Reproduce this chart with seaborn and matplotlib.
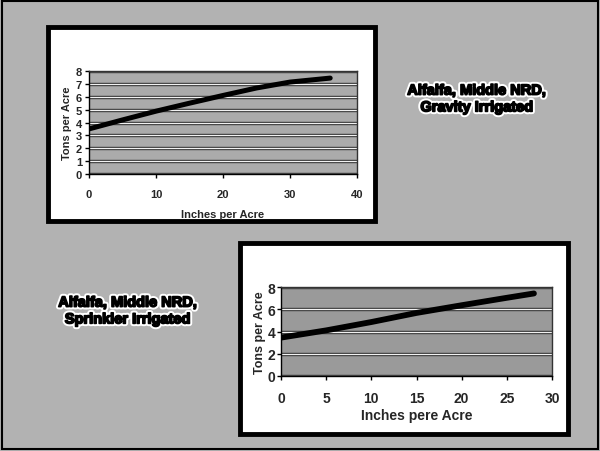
import matplotlib
matplotlib.use("Agg")
import matplotlib.pyplot as plt
import matplotlib.patheffects as pe
from matplotlib.patches import Rectangle
import seaborn as sns
import pandas as pd

sns.set_theme(style="white")
plt.rcParams['font.family'] = ['Liberation Sans', 'DejaVu Sans']

# Top chart: gravity irrigated
gravity_inches = [0, 5, 10, 15, 20, 25, 30, 36]
gravity_tons = [3.5, 4.2, 4.88, 5.5, 6.1, 6.68, 7.14, 7.45]
# Bottom chart: sprinkler irrigated
sprinkler_inches = [0, 5, 10, 15, 20, 25, 28]
sprinkler_tons = [3.45, 4.1, 4.85, 5.67, 6.36, 7.03, 7.42]

top_title = "Alfalfa, Middle NRD,\nGravity Irrigated"
bottom_title = "Alfalfa, Middle NRD,\nSprinkler Irrigated"

W, H = 600, 452
fig = plt.figure(figsize=(W / 100, H / 100), dpi=100)
fig.patch.set_facecolor('#b2b2b2')

def px_rect(x0, y0, x1, y1):
    return [x0 / W, 1 - y1 / H, (x1 - x0) / W, (y1 - y0) / H]

# outer frame
fig.patches.append(Rectangle((2 / W, 2 / H), 1 - 4 / W, 1 - 4 / H, transform=fig.transFigure,
                             fill=False, edgecolor='black', linewidth=1.5, zorder=-2))
# white panels
for (x0, y0, x1, y1) in [(48, 28, 375, 222), (240, 244, 568, 435)]:
    r = px_rect(x0, y0, x1, y1)
    fig.patches.append(Rectangle((r[0], r[1]), r[2], r[3], transform=fig.transFigure,
                                 facecolor='white', edgecolor='black', linewidth=3.5, zorder=-1))

grid_fx = [pe.Stroke(linewidth=2.4, foreground='#222222'), pe.Normal()]

def style(ax, fs, bg):
    ax.set_zorder(3)
    ax.set_facecolor(bg)
    ax.set_axisbelow(True)
    ax.grid(axis='y', color='#f2f2f2', linewidth=1.0, path_effects=grid_fx)
    ax.grid(axis='x', visible=False)
    for s in ['left', 'bottom']:
        ax.spines[s].set_color('black')
        ax.spines[s].set_linewidth(1.0)
    for s in ['top', 'right']:
        ax.spines[s].set_color('#333333')
        ax.spines[s].set_linewidth(1.0)
    ax.tick_params(axis='both', which='major', length=3, width=1, color='black',
                   direction='out', labelsize=fs, bottom=True, left=True)
    for lab in ax.get_xticklabels() + ax.get_yticklabels():
        lab.set_fontweight('bold')

# top axes
ax1 = fig.add_axes(px_rect(89, 72, 357, 175))
df1 = pd.DataFrame({'Inches per Acre': gravity_inches, 'Tons per Acre': gravity_tons})
sns.lineplot(data=df1, x='Inches per Acre', y='Tons per Acre', ax=ax1, color='black', linewidth=3.6)
ax1.set_xlim(0, 40)
ax1.set_ylim(0, 8)
ax1.set_xticks([0, 10, 20, 30, 40])
ax1.set_yticks(range(0, 9))
style(ax1, 8, '#ababab')
ax1.tick_params(axis='x', pad=8)
ax1.tick_params(axis='y', pad=2)
ax1.set_xlabel('Inches per Acre', fontsize=8, fontweight='bold', labelpad=7)
ax1.set_ylabel('Tons per Acre', fontsize=8, fontweight='bold', labelpad=3)

# bottom axes
ax2 = fig.add_axes(px_rect(281, 288, 552, 377))
df2 = pd.DataFrame({'Inches pere Acre': sprinkler_inches, 'Tons per Acre': sprinkler_tons})
sns.lineplot(data=df2, x='Inches pere Acre', y='Tons per Acre', ax=ax2, color='black', linewidth=4.2)
ax2.set_xlim(0, 30)
ax2.set_ylim(0, 8)
ax2.set_xticks([0, 5, 10, 15, 20, 25, 30])
ax2.set_yticks([0, 2, 4, 6, 8])
style(ax2, 10, '#9a9a9a')
ax2.tick_params(axis='x', pad=8)
ax2.tick_params(axis='y', pad=1)
ax2.set_xlabel('Inches pere Acre', fontsize=10, fontweight='bold', labelpad=2)
ax2.set_ylabel('Tons per Acre', fontsize=9, fontweight='bold', labelpad=1)

halo = [pe.withStroke(linewidth=4, foreground='white'),
        pe.withStroke(linewidth=1.2, foreground='black')]
fig.text(477 / W, 1 - 100 / H, top_title, ha='center', va='center', fontsize=10.5,
         fontweight='heavy', color='black', linespacing=1.25, path_effects=halo)
fig.text(128 / W, 1 - 312 / H, bottom_title, ha='center', va='center', fontsize=10.5,
         fontweight='heavy', color='black', linespacing=1.25, path_effects=halo)

fig.savefig('out.png', dpi=100, facecolor=fig.get_facecolor())
